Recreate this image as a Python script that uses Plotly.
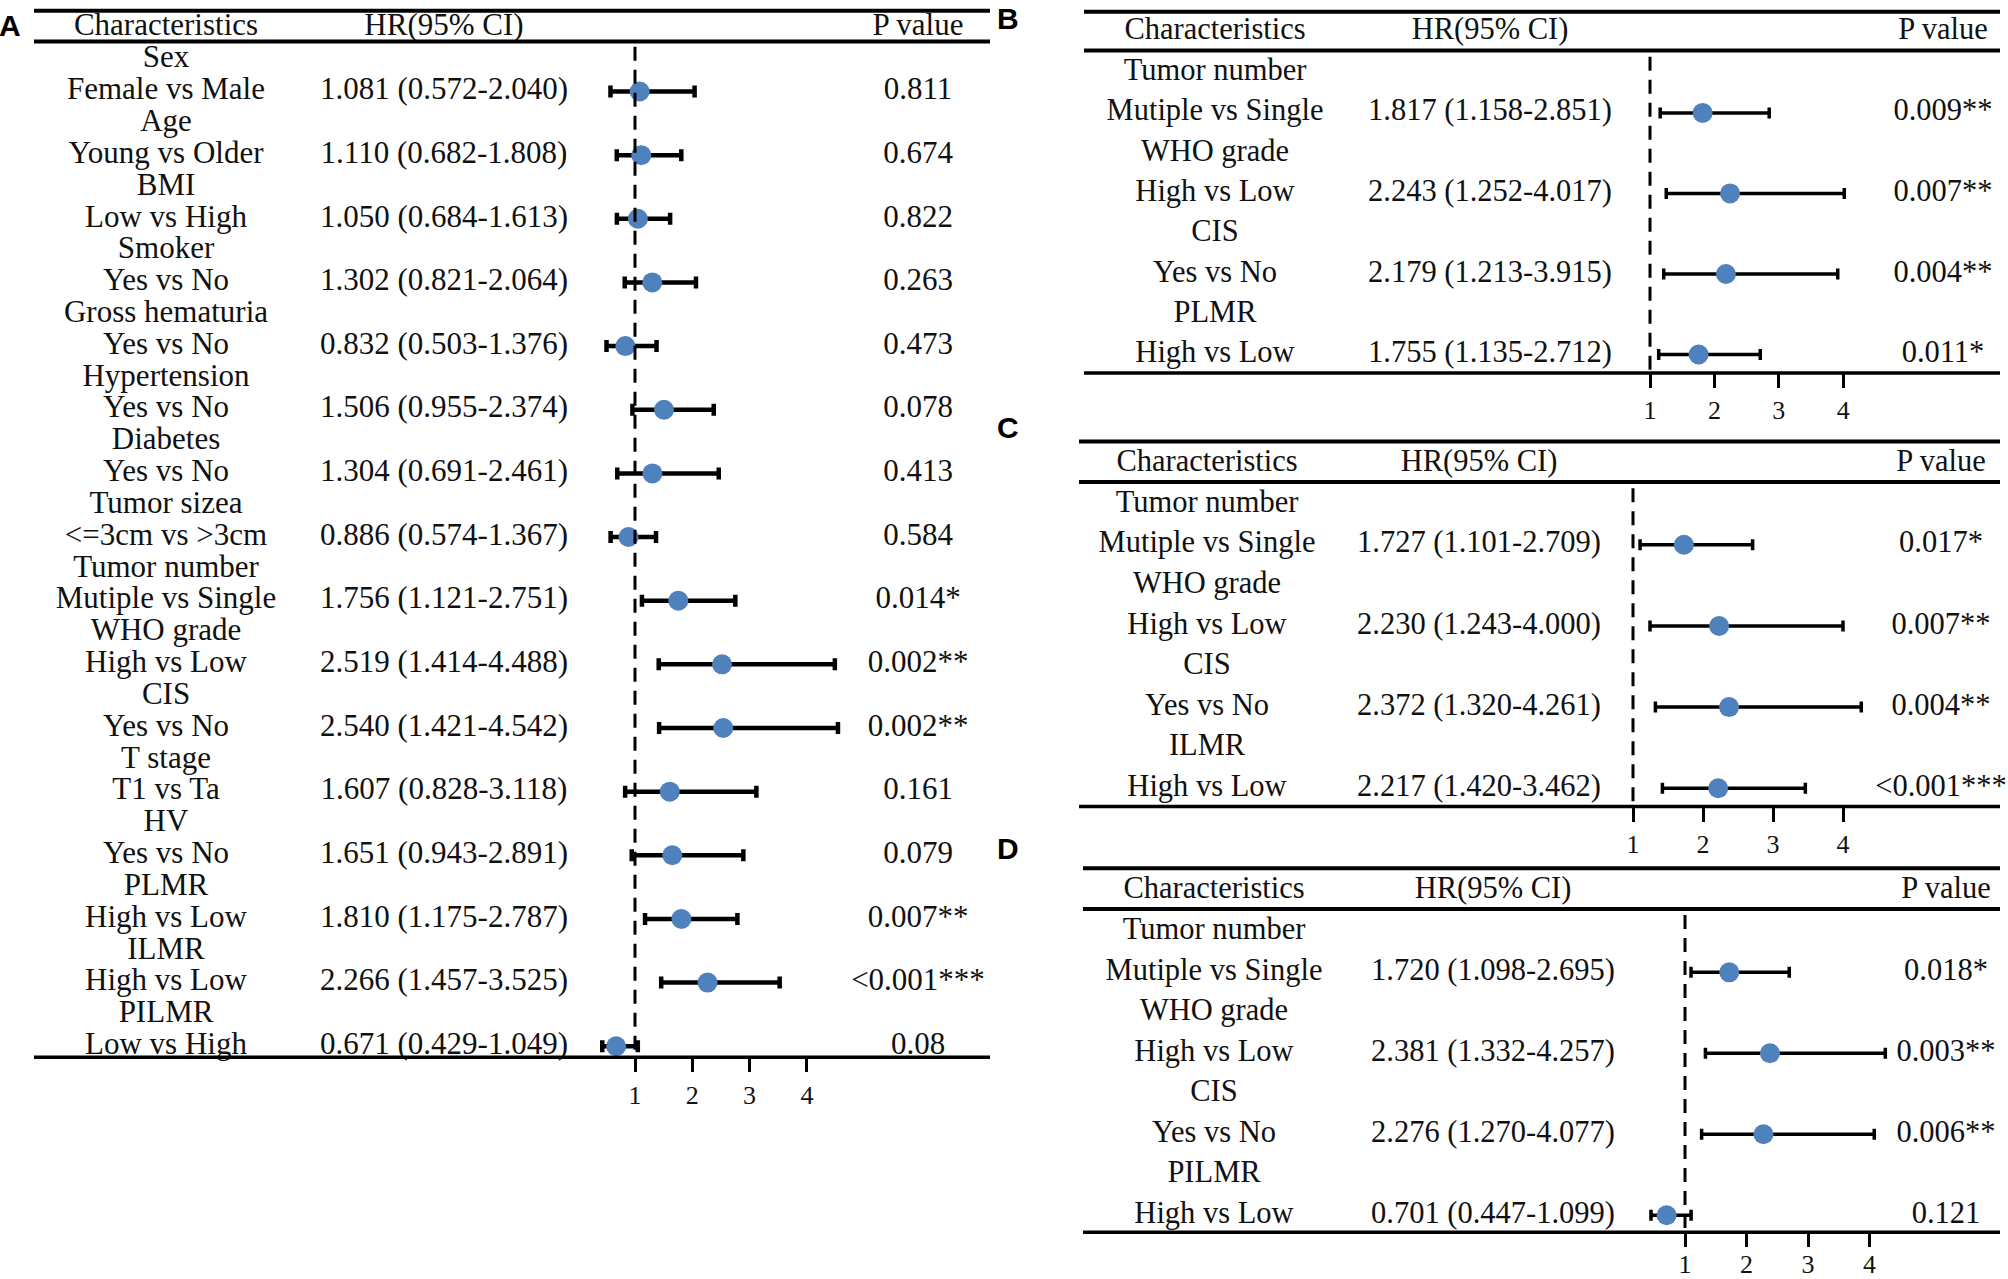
import plotly.graph_objects as go

W, H = 2008, 1279

# 1. Data
# Panel A - univariate
groups_a = ["Sex", "Age", "BMI", "Smoker", "Gross hematuria", "Hypertension",
            "Diabetes", "Tumor sizea", "Tumor number", "WHO grade", "CIS",
            "T stage", "HV", "PLMR", "ILMR", "PILMR"]
comps_a = ["Female vs Male", "Young vs Older", "Low vs High", "Yes vs No",
           "Yes vs No", "Yes vs No", "Yes vs No", "<=3cm vs >3cm",
           "Mutiple vs Single", "High vs Low", "Yes vs No", "T1 vs Ta",
           "Yes vs No", "High vs Low", "High vs Low", "Low vs High"]
hr_a = [1.081, 1.110, 1.050, 1.302, 0.832, 1.506, 1.304, 0.886,
        1.756, 2.519, 2.540, 1.607, 1.651, 1.810, 2.266, 0.671]
lo_a = [0.572, 0.682, 0.684, 0.821, 0.503, 0.955, 0.691, 0.574,
        1.121, 1.414, 1.421, 0.828, 0.943, 1.175, 1.457, 0.429]
hi_a = [2.040, 1.808, 1.613, 2.064, 1.376, 2.374, 2.461, 1.367,
        2.751, 4.488, 4.542, 3.118, 2.891, 2.787, 3.525, 1.049]
p_a = ["0.811", "0.674", "0.822", "0.263", "0.473", "0.078", "0.413", "0.584",
       "0.014*", "0.002**", "0.002**", "0.161", "0.079", "0.007**",
       "<0.001***", "0.08"]

# Panel B - multivariate with PLMR
groups_b = ["Tumor number", "WHO grade", "CIS", "PLMR"]
comps_b = ["Mutiple vs Single", "High vs Low", "Yes vs No", "High vs Low"]
hr_b = [1.817, 2.243, 2.179, 1.755]
lo_b = [1.158, 1.252, 1.213, 1.135]
hi_b = [2.851, 4.017, 3.915, 2.712]
p_b = ["0.009**", "0.007**", "0.004**", "0.011*"]

# Panel C - multivariate with ILMR
groups_c = ["Tumor number", "WHO grade", "CIS", "ILMR"]
comps_c = ["Mutiple vs Single", "High vs Low", "Yes vs No", "High vs Low"]
hr_c = [1.727, 2.230, 2.372, 2.217]
lo_c = [1.101, 1.243, 1.320, 1.420]
hi_c = [2.709, 4.000, 4.261, 3.462]
p_c = ["0.017*", "0.007**", "0.004**", "<0.001***"]

# Panel D - multivariate with PILMR
groups_d = ["Tumor number", "WHO grade", "CIS", "PILMR"]
comps_d = ["Mutiple vs Single", "High vs Low", "Yes vs No", "High vs Low"]
hr_d = [1.720, 2.381, 2.276, 0.701]
lo_d = [1.098, 1.332, 1.270, 0.447]
hi_d = [2.695, 4.257, 4.077, 1.099]
p_d = ["0.018*", "0.003**", "0.006**", "0.121"]

headers = ["Characteristics", "HR(95% CI)", "P value"]
tick_vals = [1, 2, 3, 4]

# 2. Layout of each panel (pixel positions in the 2008x1279 page)
panels = [
    dict(letter="A", data=(groups_a, comps_a, hr_a, lo_a, hi_a, p_a),
         letter_xy=(10, 26), rule=(34, 990), top=10.7, head=27,
         head_rule=41.7, bottom=1063, first=60, step=32,
         cols=(166, 444, 918), one=635, unit=57.3, dash_top=47,
         font=31, bar=4.5, cap=6, standoff=1),
    dict(letter="B", data=(groups_b, comps_b, hr_b, lo_b, hi_b, p_b),
         letter_xy=(1008, 19), rule=(1084, 2000), top=11.7, head=32,
         head_rule=50.7, bottom=375, first=73, step=40.5,
         cols=(1215, 1490, 1943), one=1650, unit=64.4, dash_top=57,
         font=30.5, bar=3.5, cap=5.5, standoff=0),
    dict(letter="C", data=(groups_c, comps_c, hr_c, lo_c, hi_c, p_c),
         letter_xy=(1008, 430), rule=(1079, 2000), top=444, head=466,
         head_rule=484.7, bottom=811, first=507, step=40.8,
         cols=(1207, 1479, 1941), one=1633, unit=70, dash_top=491,
         font=30.5, bar=3.5, cap=5.5, standoff=0),
    dict(letter="D", data=(groups_d, comps_d, hr_d, lo_d, hi_d, p_d),
         letter_xy=(1008, 853), rule=(1083, 2000), top=873, head=895.5,
         head_rule=914, bottom=1239, first=937, step=40.7,
         cols=(1214, 1493, 1946), one=1685, unit=61.5, dash_top=920,
         font=30.5, bar=3.5, cap=5.5, standoff=-5),
]

SERIF = "Liberation Serif, Times New Roman, serif"
DOT = "#4f81bd"
INK = "#111111"
HR_RANGE = (0.3, 4.9)

fig = go.Figure()
layout = dict(
    xaxis=dict(domain=[0, 1], range=[0, W], visible=False, fixedrange=True),
)
shapes = []
annotations = []

for i, pnl in enumerate(panels):
    n = i + 1
    ya = "y" if n == 1 else f"y{n}"
    yname = "yaxis" if n == 1 else f"yaxis{n}"
    xf = f"x{n + 1}"
    groups, comps, hr, lo, hi, pv = pnl["data"]
    first, step = pnl["first"], pnl["step"]

    def idx(px):
        return (px - first) / step

    # row index: group label on even rows, comparison on odd rows
    grp_rows = [2 * k for k in range(len(groups))]
    val_rows = [2 * k + 1 for k in range(len(groups))]

    layout[yname] = dict(
        domain=[1 - pnl["bottom"] / H, 1 - pnl["top"] / H],
        range=[idx(pnl["bottom"]), idx(pnl["top"])],
        visible=False,
        fixedrange=True,
    )
    one, unit = pnl["one"], pnl["unit"]
    layout[f"xaxis{n + 1}"] = dict(
        domain=[(one + (HR_RANGE[0] - 1) * unit) / W,
                (one + (HR_RANGE[1] - 1) * unit) / W],
        range=list(HR_RANGE),
        anchor=ya,
        tickvals=tick_vals,
        ticktext=[str(v) for v in tick_vals],
        ticks="outside",
        ticklen=14,
        tickwidth=3,
        tickcolor="black",
        ticklabelstandoff=pnl["standoff"],
        showline=False,
        showgrid=False,
        zeroline=False,
        fixedrange=True,
        tickfont=dict(family=SERIF, size=26, color=INK),
    )

    tfont = dict(family=SERIF, size=pnl["font"], color=INK)
    c_char, c_hr, c_p = pnl["cols"]

    # header row
    fig.add_trace(go.Scatter(
        x=list(pnl["cols"]), y=[idx(pnl["head"])] * 3, text=headers,
        mode="text", textfont=tfont, textposition="middle center",
        cliponaxis=False, hoverinfo="skip", xaxis="x", yaxis=ya,
    ))
    # characteristics column
    fig.add_trace(go.Scatter(
        x=[c_char] * (2 * len(groups)), y=grp_rows + val_rows,
        text=groups + comps, mode="text", textfont=tfont,
        textposition="middle center", cliponaxis=False, hoverinfo="skip",
        xaxis="x", yaxis=ya,
    ))
    # HR (95% CI) column
    fig.add_trace(go.Scatter(
        x=[c_hr] * len(hr), y=val_rows,
        text=[f"{h:.3f} ({l:.3f}-{u:.3f})" for h, l, u in zip(hr, lo, hi)],
        mode="text", textfont=tfont, textposition="middle center",
        cliponaxis=False, hoverinfo="skip", xaxis="x", yaxis=ya,
    ))
    # P value column
    fig.add_trace(go.Scatter(
        x=[c_p] * len(pv), y=val_rows, text=pv, mode="text", textfont=tfont,
        textposition="middle center", cliponaxis=False, hoverinfo="skip",
        xaxis="x", yaxis=ya,
    ))
    # forest points with CI bars
    fig.add_trace(go.Scatter(
        x=hr, y=val_rows, mode="markers",
        marker=dict(size=20, color=DOT, line=dict(width=0)),
        error_x=dict(
            type="data", symmetric=False,
            array=[u - h for h, u in zip(hr, hi)],
            arrayminus=[h - l for h, l in zip(hr, lo)],
            color="black", thickness=pnl["bar"], width=pnl["cap"],
        ),
        cliponaxis=False, xaxis=xf, yaxis=ya,
        hovertemplate="HR %{x:.3f}<extra></extra>",
    ))

    # table rules
    x0, x1 = pnl["rule"]
    for ypx, wd in [(pnl["top"], 4), (pnl["head_rule"], 4), (pnl["bottom"], 3.5)]:
        shapes.append(dict(
            type="line", xref="paper", yref="paper",
            x0=x0 / W, x1=x1 / W, y0=1 - ypx / H, y1=1 - ypx / H,
            line=dict(color="black", width=wd),
        ))
    # reference line at HR = 1
    shapes.append(dict(
        type="line", xref=xf, yref="paper", x0=1, x1=1,
        y0=1 - pnl["dash_top"] / H, y1=1 - pnl["bottom"] / H,
        line=dict(color="black", width=3, dash="14px,9px"),
    ))

    lx, ly = pnl["letter_xy"]
    annotations.append(dict(
        text=f"<b>{pnl['letter']}</b>", xref="paper", yref="paper",
        x=lx / W, y=1 - ly / H, xanchor="center", yanchor="middle",
        showarrow=False,
        font=dict(family="Liberation Sans, Arial, sans-serif", size=30,
                  color="black"),
    ))

fig.update_layout(
    **layout,
    width=W,
    height=H,
    autosize=False,
    margin=dict(l=0, r=0, t=0, b=0),
    paper_bgcolor="white",
    plot_bgcolor="rgba(0,0,0,0)",
    showlegend=False,
    shapes=shapes,
    annotations=annotations,
)

# drop the default 8px page margin so the figure fills the window exactly
fig.write_html(
    "out.html",
    config={"displayModeBar": False},
    post_script="document.body.style.margin='0';document.body.style.overflow='hidden';",
)
